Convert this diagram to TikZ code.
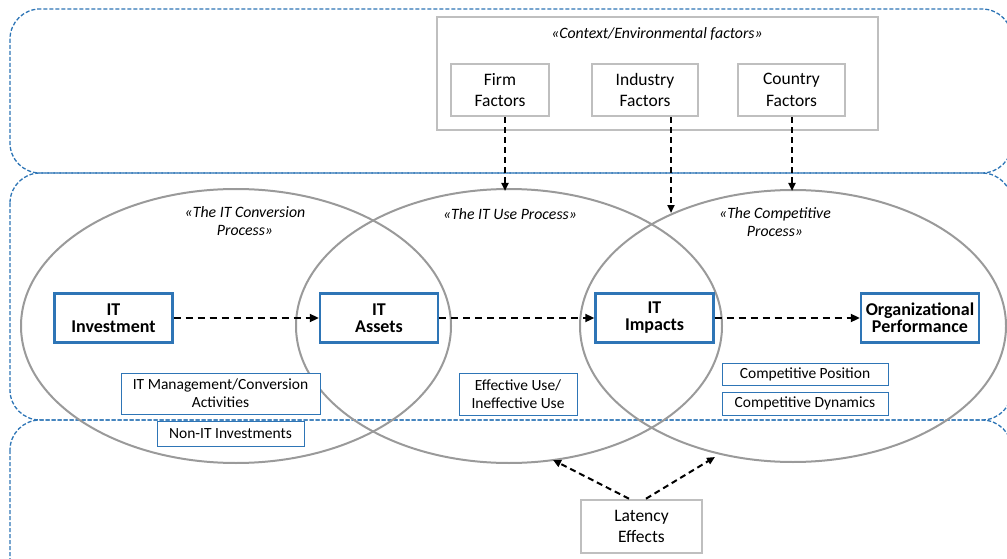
\documentclass[tikz,border=0pt]{standalone}
\usepackage{fontspec}
\setmainfont{Carlito}
\usetikzlibrary{arrows.meta}
\definecolor{bandblue}{HTML}{2E75B6}
\definecolor{boxblue}{HTML}{2E75B6}
\definecolor{ellgray}{HTML}{9A9A9A}
\definecolor{boxgray}{HTML}{BFBFBF}
\tikzset{
  band/.style={draw=bandblue, line width=1.3pt, dash pattern=on 4pt off 2pt, rounded corners=30pt},
  procell/.style={draw=ellgray, line width=2pt},
  graybox/.style={draw=boxgray, line width=2.6pt, fill=white, align=center, inner sep=0pt, font=\fontsize{17.5}{21.5}\selectfont},
  mainbox/.style={draw=boxblue, line width=2.4pt, fill=white, align=center, inner sep=0pt, minimum width=118pt, minimum height=49pt, font=\fontsize{18}{17}\selectfont\bfseries},
  thinbox/.style={draw=boxblue, line width=1pt, fill=white, align=center, inner sep=0pt, font=\fontsize{15.5}{18}\selectfont},
  lbl/.style={align=center, font=\fontsize{15.8}{18.5}\selectfont\itshape},
  flow/.style={line width=2pt, dash pattern=on 7pt off 5pt, -{Triangle[length=9pt,width=8pt]}},
  infl/.style={line width=2pt, dash pattern=on 6pt off 4pt, -{Triangle[length=8pt,width=7pt]}}
}
\begin{document}
\begin{tikzpicture}[x=1pt,y=-1pt]
\useasboundingbox (0,0) rectangle (1007,559);
% bands
\draw[band] (10,9) rectangle (1012,173);
\draw[band] (10,173) rectangle (1012,420);
\draw[band] (10,420) rectangle (1012,600);
% context box
\node[graybox, minimum width=441pt, minimum height=113pt] (ctx) at (657.5,73.5) {};
\node[lbl] (ctxl) at (657,34) {«Context/Environmental factors»};
\node[graybox, minimum width=98pt, minimum height=52pt] (firm) at (500,90) {Firm\\Factors};
\node[graybox, minimum width=106pt, minimum height=52pt] (ind) at (645,90) {Industry\\Factors};
\node[graybox, minimum width=107pt, minimum height=52pt] (cty) at (791.5,90) {Country\\Factors};
% ellipses
\draw[procell] (236,326) ellipse [x radius=215, y radius=137];
\draw[procell] (509,326) ellipse [x radius=213, y radius=137];
\draw[procell] (793,326) ellipse [x radius=213, y radius=136];
\node[lbl] (l1) at (245,221) {«The IT Conversion\\Process»};
\node[lbl] (l2) at (510,214) {«The IT Use Process»};
\node[lbl] (l3) at (775,222) {«The Competitive\\Process»};
% main boxes
\node[mainbox] (inv) at (113.5,318) {IT\\Investment};
\node[mainbox] (ast) at (379,318) {IT\\Assets};
\node[mainbox] (imp) at (654.5,318) {IT\\Impacts};
\node[mainbox] (org) at (920,318) {Organizational\\Performance};
% thin boxes
\node[thinbox, minimum width=199pt, minimum height=41pt] (mgmt) at (220.5,393.5) {IT Management/Conversion\\Activities};
\node[thinbox, minimum width=147pt, minimum height=25pt] (nonit) at (230.5,433.5) {Non-IT Investments};
\node[thinbox, minimum width=118pt, minimum height=42pt] (use) at (518,394) {Effective Use/\\Ineffective Use};
\node[thinbox, minimum width=166pt, minimum height=22pt] (pos) at (805,374.5) {Competitive Position};
\node[thinbox, minimum width=166pt, minimum height=23pt] (dyn) at (805,403.5) {Competitive Dynamics};
% latency
\node[graybox, minimum width=121pt, minimum height=53pt] (lat) at (641.5,526.5) {Latency\\Effects};
% arrows
\draw[flow] (inv.east) -- (ast.west);
\draw[flow] (ast.east) -- (imp.west);
\draw[flow] (imp.east) -- (org.west);
\coordinate (fe) at (505,191);
\coordinate (ie) at (671,213);
\coordinate (ce) at (792,191);
\draw[infl] (firm.south -| fe) -- (fe);
\draw[infl] (ind.south -| ie) -- (ie);
\draw[infl] (cty.south -| ce) -- (ce);
\coordinate (la) at (553,460);
\coordinate (lb) at (715,457);
\draw[infl] (lat.north -| 629,0) -- (la);
\draw[infl] (lat.north -| 646,0) -- (lb);
\end{tikzpicture}
\end{document}
